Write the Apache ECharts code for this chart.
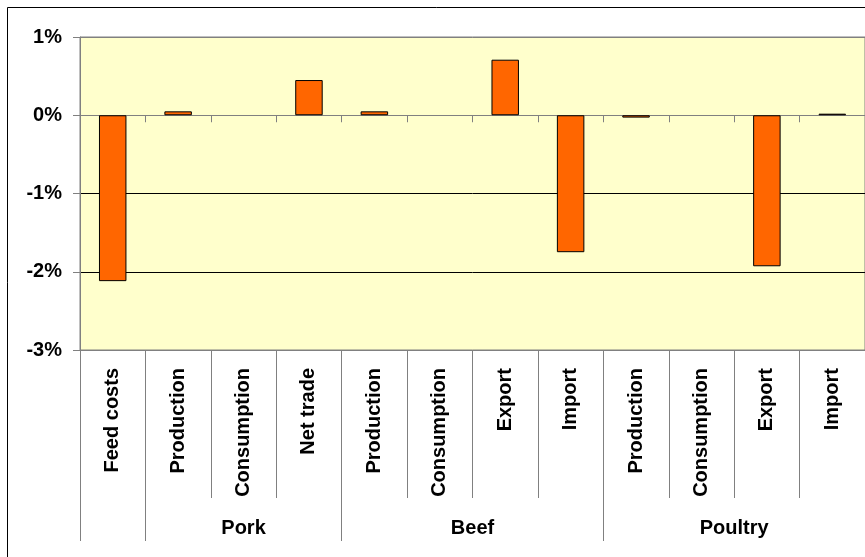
<!DOCTYPE html>
<html><head><meta charset="utf-8">
<script src="https://cdn.jsdelivr.net/npm/echarts@6/dist/echarts.min.js"></script>
<style>html,body{margin:0;padding:0;background:#fff}#c{width:865px;height:557px}</style>
</head><body><div id="c"></div>
<script>
const categories = ['Feed costs','Production','Consumption','Net trade','Production','Consumption','Export','Import','Production','Consumption','Export','Import'];
const values = [-2.12, 0.05, 0, 0.45, 0.05, 0, 0.71, -1.75, -0.03, 0, -1.93, 0.02];
const groupNames = ['', 'Pork', 'Beef', 'Poultry'];
const groupSizes = [1, 3, 4, 4];
const yMin = -3, yMax = 1, yStep = 1;

const groupBounds = [0];
groupSizes.forEach(s => groupBounds.push(groupBounds[groupBounds.length - 1] + s));
const groupCenters = groupSizes.map((s, i) => groupBounds[i] + s / 2);
const labelFor = v => { const i = groupCenters.indexOf(v); return i >= 0 ? groupNames[i] : ''; };

const FONT = 'Arial, "Liberation Sans", sans-serif';
const GRAY = '#808080';

const barData = values.map(v => v === 0 ? {value: v, itemStyle: {borderWidth: 0}} : v);

const chart = echarts.init(document.getElementById('c'), null, {renderer: 'canvas'});
chart.setOption({
  animation: false,
  backgroundColor: '#fff',
  grid: {left: 80, right: 0, top: 37, bottom: 207, show: true, backgroundColor: '#FFFFCC', borderColor: GRAY, borderWidth: 1, containLabel: false},
  graphic: [{type: 'rect', shape: {x: 7.5, y: 7.5, width: 900, height: 600}, style: {fill: 'none', stroke: '#000', lineWidth: 1}, silent: true}],
  yAxis: {
    type: 'value', min: yMin, max: yMax, interval: yStep,
    axisLine: {show: true, lineStyle: {color: GRAY}},
    axisTick: {show: true, length: 7, lineStyle: {color: GRAY}},
    axisLabel: {formatter: '{value}%', fontSize: 20, fontWeight: 'bold', color: '#000', fontFamily: FONT, margin: 18},
    splitLine: {show: true, lineStyle: {color: [GRAY, '#000', '#000', GRAY, GRAY], width: 1}}
  },
  xAxis: [
    {
      type: 'category', data: categories, position: 'bottom',
      axisLine: {show: true, onZero: true, lineStyle: {color: GRAY}},
      axisTick: {show: true, interval: 0, alignWithLabel: false, length: 7, lineStyle: {color: GRAY}},
      axisLabel: {show: false}, splitLine: {show: false}
    },
    {
      type: 'category', data: categories, position: 'bottom', offset: 0,
      axisLine: {show: true, onZero: false, lineStyle: {color: GRAY}},
      axisTick: {show: true, interval: 0, alignWithLabel: false, length: 148, lineStyle: {color: GRAY}},
      axisLabel: {interval: 0, rotate: 90, margin: 18, fontSize: 20, fontWeight: 'bold', color: '#000', fontFamily: FONT},
      splitLine: {show: false}
    },
    {
      type: 'value', min: 0, max: groupBounds[groupBounds.length - 1], position: 'bottom', offset: 0,
      axisLine: {show: false, onZero: false},
      axisTick: {show: true, customValues: groupBounds, length: 191, lineStyle: {color: GRAY}},
      axisLabel: {show: true, customValues: groupCenters, formatter: labelFor, margin: 168, fontSize: 20, fontWeight: 'bold', color: '#000', fontFamily: FONT},
      splitLine: {show: false}
    }
  ],
  series: [{
    type: 'bar', xAxisIndex: 0, yAxisIndex: 0, data: barData,
    barCategoryGap: '58%',
    itemStyle: {color: '#FF6600', borderColor: '#000', borderWidth: 1}
  }]
});
</script></body></html>
